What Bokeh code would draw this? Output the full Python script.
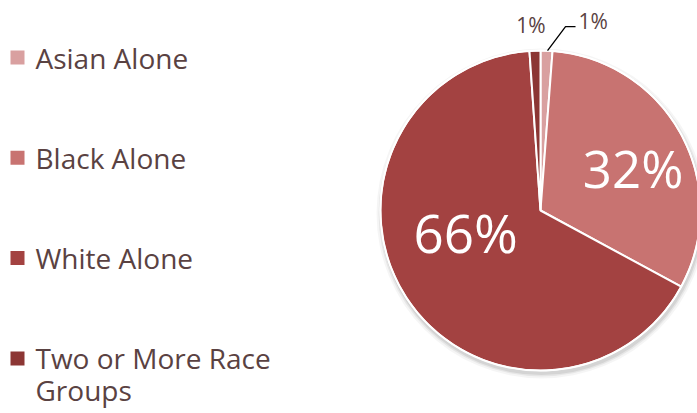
import numpy as np
from bokeh.plotting import figure
from bokeh.models import Range1d, ColumnDataSource
from bokeh.core.properties import value
from bokeh.embed import file_html
from bokeh.resources import INLINE

categories = ["Asian Alone", "Black Alone", "White Alone", "Two or More Race Groups"]
shares = [1.2, 31.7, 66.0, 1.1]
labels = ["1%", "32%", "66%", "1%"]
colors = ["#D9A0A0", "#C87371", "#A34241", "#8C3634"]

W, H = 697, 413
FONT = "Open Sans"
TXT = "#5A4242"

p = figure(width=W, height=H, x_range=Range1d(0, W), y_range=Range1d(0, H),
           output_backend="svg", toolbar_location=None, min_border=0)
p.axis.visible = False
p.grid.visible = False
p.outline_line_color = None
p.background_fill_color = "white"
p.border_fill_color = "white"

def Y(v):
    return H - v

cx, cy, R = 540, Y(210), 160
frac = np.array(shares) / sum(shares)
cum = np.concatenate([[0], np.cumsum(frac)])
start = np.pi / 2 - cum[:-1] * 2 * np.pi
end = np.pi / 2 - cum[1:] * 2 * np.pi
mid = (start + end) / 2

# shadow
for dr, a in [(5, 0.04), (3, 0.06), (1.5, 0.08)]:
    p.circle(x=cx + 1, y=cy - 3, radius=R + dr, fill_color="black", fill_alpha=a, line_color=None)

src = ColumnDataSource(dict(start=start, end=end, color=colors))
p.wedge(x=cx, y=cy, radius=R, start_angle="start", end_angle="end", direction="clock",
        fill_color="color", line_color="white", line_width=2, source=src)
p.circle(x=cx, y=cy, radius=R, fill_color=None, line_color="white", line_width=1.5)

# big labels inside: (radial distance, clockwise angle shift in radians, size)
inside = {1: (102, 0.066, "51px"), 2: (78, 0.287, "53px")}
for i, (rr, da, fs) in inside.items():
    a = mid[i] - da
    p.text(x=[cx + rr * np.cos(a)], y=[cy + rr * np.sin(a)], text=[labels[i]],
           text_font=value(FONT), text_font_size=fs, text_color="white",
           text_align="center", text_baseline="middle")

# small outside labels
a3 = mid[3]
tx, ty = cx + R * np.cos(a3), cy + R * np.sin(a3)
p.text(x=[tx - 4], y=[ty + 26], text=[labels[3]],
       text_font=value(FONT), text_font_size="21px", text_color=TXT,
       text_align="center", text_baseline="middle")

a0 = mid[0]
sx, sy = cx + R * np.cos(a0) + 1, cy + R * np.sin(a0)
ex, ey = sx + 18, sy + 24
p.line(x=[sx, ex, ex + 10], y=[sy, ey, ey], line_color="black", line_width=1.3)
p.text(x=[ex + 13], y=[ey + 6], text=[labels[0]],
       text_font=value(FONT), text_font_size="21px", text_color=TXT,
       text_align="left", text_baseline="middle")

# legend
def wrap(s, n=17):
    words, lines, cur = s.split(), [], ""
    for w in words:
        if cur and len(cur) + 1 + len(w) > n:
            lines.append(cur)
            cur = w
        else:
            cur = (cur + " " + w).strip()
    lines.append(cur)
    return lines

lx, ly0, step, lh = 17, 57, 100.3, 32
for i, c in enumerate(categories):
    yy = ly0 + i * step
    p.rect(x=[lx], y=[Y(yy)], width=14, height=14, fill_color=colors[i], line_color=None)
    for j, line in enumerate(wrap(c)):
        p.text(x=[35], y=[Y(yy + j * lh)], text=[line], text_font=value(FONT),
               text_font_size="28px", text_color=TXT, text_align="left", text_baseline="middle")

open("out.html", "w").write(file_html(p, INLINE))
